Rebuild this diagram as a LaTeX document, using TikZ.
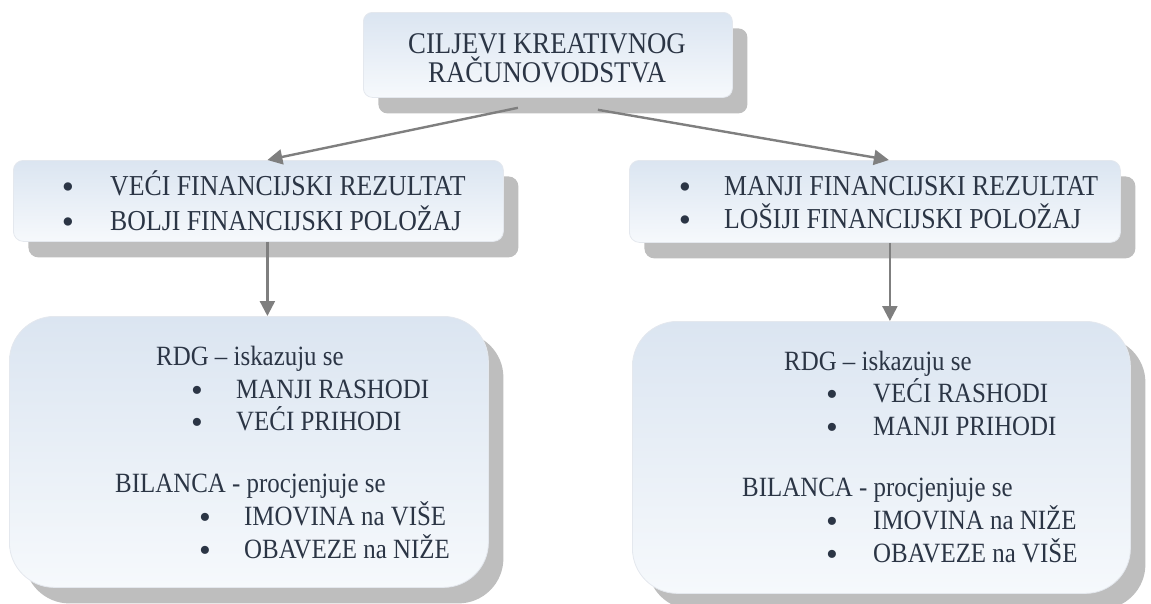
\documentclass[tikz,border=0pt]{standalone}
\usepackage{fontspec}
\setmainfont{Liberation Serif}
\usetikzlibrary{shadows,arrows.meta}
\definecolor{txt}{HTML}{2B3545}
\definecolor{boxtop}{HTML}{DBE5F1}
\definecolor{boxbot}{HTML}{F6F9FC}
\definecolor{shd}{HTML}{BEBEBE}
\definecolor{arrc}{HTML}{7F7F7F}
\definecolor{edge}{HTML}{E4E8EE}
\newcommand{\vstretch}[1]{\scalebox{1}[1.12]{#1}}
\newcommand{\bigbul}{\scalebox{1.35}{•}}
\begin{document}
\begin{tikzpicture}[x=1pt,y=-1pt,
  box/.style={draw=edge, line width=0.8pt, top color=boxtop, bottom color=boxbot, inner sep=0pt, anchor=north west},
  shadowbox/.style={general shadow={fill=shd, shadow xshift=15pt, shadow yshift=-16pt}},
  arr/.style={draw=arrc, line width=2.4pt, -{Triangle[length=15pt,width=15pt]}},
  lbl/.style={text=txt, inner sep=0pt, anchor=base west},
  ctr/.style={text=txt, inner sep=0pt, anchor=base},
  fa/.style={font=\fontsize{26.8}{30}\selectfont},
  fb/.style={font=\fontsize{25.8}{30}\selectfont},
  fc/.style={font=\fontsize{24.9}{30}\selectfont},
]
\useasboundingbox (0,0) rectangle (1151,603);

% boxes
\node[box, shadowbox, rounded corners=9pt, minimum width=369pt, minimum height=85pt] (top) at (363,12) {};
\node[box, shadowbox, rounded corners=10pt, minimum width=490pt, minimum height=81pt] (ml) at (13,160) {};
\node[box, shadowbox, rounded corners=10pt, minimum width=491pt, minimum height=82pt] (mr) at (629,160) {};
\node[box, shadowbox, rounded corners=45pt, minimum width=479pt, minimum height=271pt] (bl) at (9,316) {};
\node[box, shadowbox, rounded corners=45pt, minimum width=498pt, minimum height=272pt] (br) at (632,321) {};

% top text
\node[ctr, fa] (t1) at (547,53) {\vstretch{CILJEVI KREATIVNOG}};
\node[ctr, fa] (t2) at (547,82) {\vstretch{RAČUNOVODSTVA}};

% middle left
\node[ctr, fb] (mlb1) at (68,198) {\bigbul};
\node[lbl, fb] (ml1) at (110,195) {\vstretch{VEĆI FINANCIJSKI REZULTAT}};
\node[ctr, fb] (mlb2) at (68,233) {\bigbul};
\node[lbl, fb] (ml2) at (110,230) {\vstretch{BOLJI FINANCIJSKI POLOŽAJ}};

% middle right
\node[ctr, fb] (mrb1) at (685,198) {\bigbul};
\node[lbl, fb] (mr1) at (724,195) {\vstretch{MANJI FINANCIJSKI REZULTAT}};
\node[ctr, fb] (mrb2) at (685,231) {\bigbul};
\node[lbl, fb] (mr2) at (724,228) {\vstretch{LOŠIJI FINANCIJSKI POLOŽAJ}};

% bottom left
\node[lbl, fc] (bl1) at (156,365) {\vstretch{RDG – iskazuju se}};
\node[ctr, fc] (blb2) at (197,401) {\bigbul};
\node[lbl, fc] (bl2) at (236,398) {\vstretch{MANJI RASHODI}};
\node[ctr, fc] (blb3) at (197,433) {\bigbul};
\node[lbl, fc] (bl3) at (236,430) {\vstretch{VEĆI PRIHODI}};
\node[lbl, fc] (bl4) at (115,492) {\vstretch{BILANCA - procjenjuje se}};
\node[ctr, fc] (blb5) at (205,528) {\bigbul};
\node[lbl, fc] (bl5) at (244,525) {\vstretch{IMOVINA na VIŠE}};
\node[ctr, fc] (blb6) at (205,561) {\bigbul};
\node[lbl, fc] (bl6) at (244,558) {\vstretch{OBAVEZE na NIŽE}};

% bottom right
\node[lbl, fc] (br1) at (784,370) {\vstretch{RDG – iskazuju se}};
\node[ctr, fc] (brb2) at (832,405) {\bigbul};
\node[lbl, fc] (br2) at (873,402) {\vstretch{VEĆI RASHODI}};
\node[ctr, fc] (brb3) at (832,438) {\bigbul};
\node[lbl, fc] (br3) at (873,435) {\vstretch{MANJI PRIHODI}};
\node[lbl, fc] (br4) at (742,496) {\vstretch{BILANCA - procjenjuje se}};
\node[ctr, fc] (brb5) at (832,532) {\bigbul};
\node[lbl, fc] (br5) at (873,529) {\vstretch{IMOVINA na NIŽE}};
\node[ctr, fc] (brb6) at (832,565) {\bigbul};
\node[lbl, fc] (br6) at (873,562) {\vstretch{OBAVEZE na VIŠE}};

% connectors
\coordinate (s1) at ([shift={(-30pt,-10pt)}]top.south);
\coordinate (s2) at ([shift={(50pt,-12pt)}]top.south);
\draw[arr] (s1) -- ([xshift=9pt]ml.north);
\draw[arr] (s2) -- ([xshift=14pt]mr.north);
\draw[arr] ([xshift=9pt]ml.south) -- ([xshift=9pt]ml.south |- bl.north);
\draw[arr] ([xshift=15pt]mr.south) -- ([xshift=15pt]mr.south |- br.north);
\end{tikzpicture}
\end{document}
